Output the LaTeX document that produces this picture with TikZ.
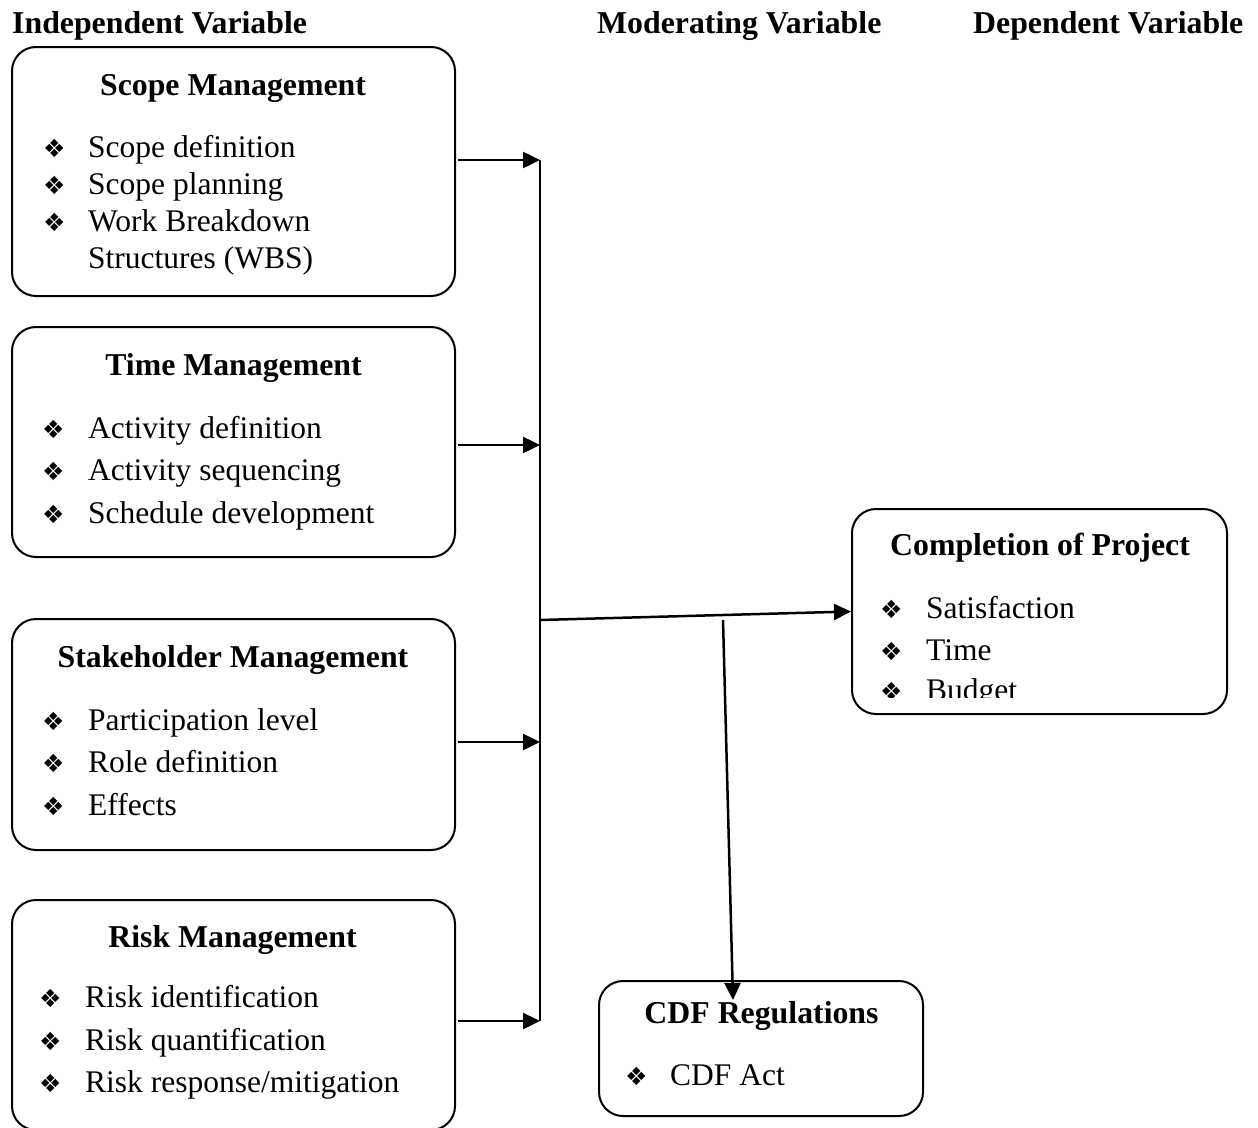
\documentclass[tikz,border=0pt]{standalone}
\usepackage{fontspec}
\setmainfont{Liberation Serif}
\newfontfamily\dejavu{DejaVu Sans}
\usetikzlibrary{arrows.meta}
\newcommand\diam{{\dejavu\fontsize{25}{25}\selectfont ❖}}
\newcommand\bitem[5]{%
  \node[bul] (#1b) at (#2,#4) {\diam};
  \node[itm] (#1) at (#3,#4) {#5};}
\begin{document}
\begin{tikzpicture}[x=1pt,y=-1pt,
  box/.style={draw, line width=2pt, rounded corners=24pt, inner sep=0pt},
  hd/.style={font=\fontsize{31.8}{36}\selectfont\bfseries, inner sep=0pt, anchor=base},
  top/.style={font=\fontsize{31.8}{36}\selectfont\bfseries, inner sep=0pt, anchor=base west},
  itm/.style={font=\fontsize{31.5}{36}\selectfont, inner sep=0pt, anchor=base west},
  bul/.style={inner sep=0pt, anchor=base west},
  arr/.style={line width=2.5pt, -{Triangle[length=17pt,width=16pt]}},
  ln/.style={line width=2.5pt}]
\useasboundingbox (0,0) rectangle (1258,1127);

% top labels
\node[top] (lind) at (12,33) {Independent Variable};
\node[top] (lmod) at (597,33) {Moderating Variable};
\node[top] (ldep) at (973,33) {Dependent Variable};

% boxes
\node[box, minimum width=443pt, minimum height=249pt] (scope) at (233.5,171.5) {};
\node[box, minimum width=443pt, minimum height=230pt] (time) at (233.5,442) {};
\node[box, minimum width=443pt, minimum height=231pt] (stake) at (233.5,734.5) {};
\node[box, minimum width=443pt, minimum height=230pt] (risk) at (233.5,1015) {};
\node[box, minimum width=375pt, minimum height=205pt] (comp) at (1039.5,611.5) {};
\node[box, minimum width=324pt, minimum height=135pt] (cdf) at (761,1048.5) {};

% scope
\node[hd] (hscope) at (233,95) {Scope Management};
\bitem{s1}{43}{88}{157}{Scope definition}
\bitem{s2}{43}{88}{194}{Scope planning}
\bitem{s3}{43}{88}{231}{Work Breakdown}
\node[itm] (s4) at (88,268) {Structures (WBS)};

% time
\node[hd] (htime) at (233.5,375) {Time Management};
\bitem{t1}{42}{88}{438}{Activity definition}
\bitem{t2}{42}{88}{480}{Activity sequencing}
\bitem{t3}{42}{88}{523}{Schedule development}

% stakeholder
\node[hd] (hstake) at (233,667) {Stakeholder Management};
\bitem{k1}{42}{88}{730}{Participation level}
\bitem{k2}{42}{88}{772}{Role definition}
\bitem{k3}{42}{88}{815}{Effects}

% risk
\node[hd] (hrisk) at (232.5,947) {Risk Management};
\bitem{r1}{39}{85}{1007}{Risk identification}
\bitem{r2}{39}{85}{1050}{Risk quantification}
\bitem{r3}{39}{85}{1092}{Risk response/mitigation}

% completion
\node[hd] (hcomp) at (1040,555) {Completion of Project};
\bitem{c1}{880}{926}{618}{Satisfaction}
\bitem{c2}{880}{926}{660}{Time}
\begin{scope}
\clip (852,675) rectangle (1227,697);
\bitem{c3}{880}{926}{700}{Budget}
\end{scope}

% cdf
\node[hd] (hcdf) at (761.5,1023) {CDF Regulations};
\bitem{d1}{625}{670}{1085}{CDF Act}

% connectors
\coordinate (j1) at (540,160);
\coordinate (j2) at (540,445);
\coordinate (j3) at (540,742);
\coordinate (j4) at (540,1021);
\coordinate (m0) at (540,620);
\coordinate (v0) at (723,620);
\coordinate (v1) at (733,1000);

\draw[arr] (scope.east |- j1) ++(2,0) -- (j1);
\draw[arr] (time.east |- j2) ++(2,0) -- (j2);
\draw[arr] (stake.east |- j3) ++(2,0) -- (j3);
\draw[arr] (risk.east |- j4) ++(2,0) -- (j4);
\draw[ln] (j1) -- (j4);
\draw[arr] (m0) -- (comp.west);
\draw[arr] (v0) -- (v1);
\end{tikzpicture}
\end{document}
